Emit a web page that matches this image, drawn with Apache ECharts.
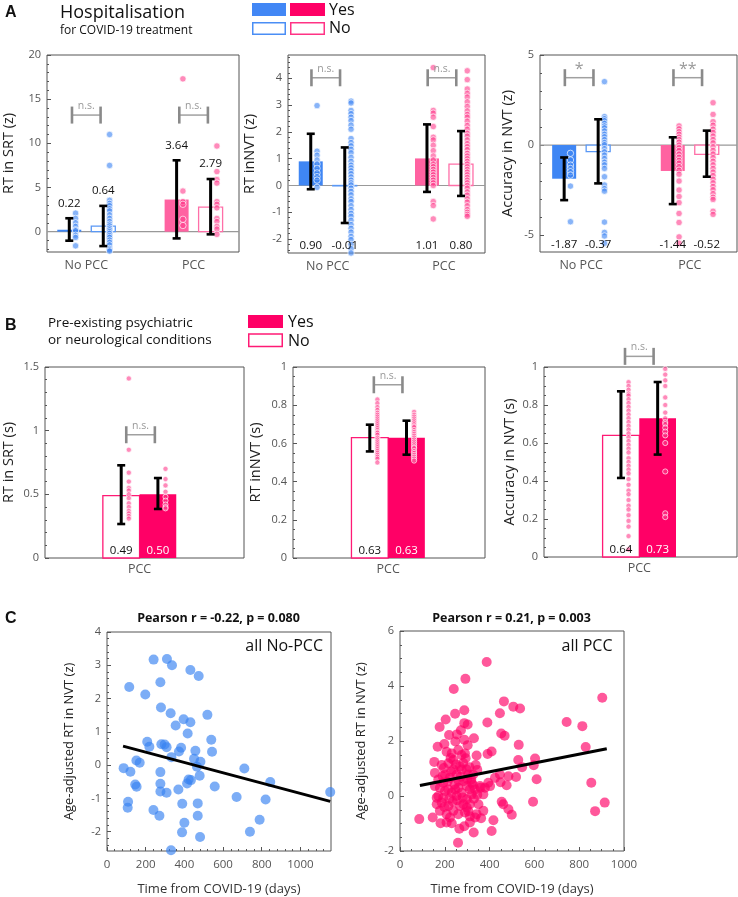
<!DOCTYPE html>
<html>
<head>
<meta charset="utf-8">
<script src="https://cdn.jsdelivr.net/npm/echarts@6.0.0/dist/echarts.min.js"></script>
<style>
html,body{margin:0;padding:0;background:#fff;}
#chart{width:738px;height:897px;}
</style>
</head>
<body>
<div id="chart"></div>
<script>
// ================= DATA =================
const groupsA = ['No PCC', 'PCC'];
const groupsB = ['PCC'];
// Panel A order: [No PCC / hosp Yes, No PCC / hosp No, PCC / hosp Yes, PCC / hosp No]
const srtMean = [0.22, 0.64, 3.64, 2.79];
const srtLow  = [-1.02, -1.63, -0.76, -0.30];
const srtHigh = [1.52, 2.92, 8.08, 5.96];
const srtDots = [
  [2.1, 1.5, 1.0, 0.6, 0.2, 0.1, -0.4, -0.65, -1.6],
  [11.0, 7.5, 3.55, 3.2, 2.95, 2.6, 2.35, 1.9, 1.5, 1.15, 0.85, 0.65, 0.4, 0.2, 0.0, -0.2, -0.45, -0.65, -0.95, -1.2, -1.5, -1.9, -2.05, -2.2],
  [17.3, 4.6, 3.4, 3.1, 1.4, 0.7],
  [9.7, 6.8, 5.9, 5.5, 3.4, 3.1, 2.7, 1.5, 1.15, 0.6, 0.3, -0.3]
];
const nvtMean = [0.90, -0.01, 1.01, 0.80];
const nvtLow  = [-0.14, -1.40, -0.24, -0.39];
const nvtHigh = [1.93, 1.42, 2.28, 2.03];
const nvtDots = [
  [2.98, 1.28, 1.13, 0.95, 0.8, 0.64, 0.47, 0.33, 0.2, -0.07],
  [3.15, 3.08, 2.8, 2.68, 2.55, 2.42, 2.25, 2.1, 1.75, 1.6, 1.48, 1.35, 1.22, 1.05, 0.9, 0.76, 0.66, 0.55, 0.44, 0.32, 0.2, 0.1, 0.02, -0.1, -0.22, -0.35, -0.5, -0.6, -0.76, -0.9, -1.04, -1.15, -1.3, -1.46, -1.6, -1.74, -1.9, -2.02, -2.2, -2.36, -2.52],
  [4.4, 2.8, 2.7, 2.55, 2.2, 1.8, 1.7, 1.5, 1.3, 1.1, 0.95, 0.8, 0.7, 0.6, 0.5, 0.4, 0.3, 0.2, 0.1, 0.0, -0.6, -0.75, -1.25],
  [4.28, 3.95, 3.6, 3.44, 3.3, 3.12, 2.95, 2.78, 2.65, 2.55, 2.4, 2.24, 2.1, 1.95, 1.84, 1.7, 1.56, 1.45, 1.34, 1.2, 1.1, 1.0, 0.9, 0.8, 0.7, 0.6, 0.5, 0.4, 0.3, 0.2, 0.1, 0.0, -0.1, -0.24, -0.36, -0.5, -0.62, -0.76, -0.9, -1.0, -1.08, -1.15]
];
const accMean = [-1.87, -0.37, -1.44, -0.52];
const accLow  = [-3.06, -2.13, -3.28, -1.76];
const accHigh = [-0.69, 1.43, 0.43, 0.80];
const accDots = [
  [-0.46, -0.83, -1.11, -1.3, -1.48, -1.67, -2.28, -4.26],
  [3.52, 1.58, 1.46, 1.35, 1.2, 1.06, 0.95, 0.78, 0.6, 0.46, 0.3, 0.14, 0.02, -0.2, -0.38, -0.56, -0.75, -0.95, -1.1, -1.3, -1.76, -2.22, -2.42, -2.56, -4.28, -4.85, -5.05, -5.45],
  [1.06, 0.9, 0.74, 0.6, 0.44, 0.3, 0.16, 0.0, -0.15, -0.3, -0.5, -0.68, -0.85, -1.0, -1.2, -1.4, -1.62, -2.0, -2.5, -2.86, -3.2, -3.8, -4.3, -5.1, -5.45],
  [2.35, 1.7, 1.3, 1.1, 0.88, 0.7, 0.5, 0.3, 0.12, -0.1, -0.3, -0.5, -0.7, -0.9, -1.1, -1.3, -1.5, -1.7, -1.9, -2.1, -2.3, -2.48, -2.7, -2.9, -3.02, -3.68, -3.85]
];
const sigA1 = ['n.s.', 'n.s.'];
const sigA2 = ['n.s.', 'n.s.'];
const sigA3 = ['*', '**'];

// Panel B order: [conditions No, conditions Yes]
const bSrtMean = [0.49, 0.50];
const bSrtLow  = [0.267, 0.385];
const bSrtHigh = [0.728, 0.628];
const bSrtDots = [
  [1.41, 0.85, 0.67, 0.6, 0.55, 0.53, 0.5, 0.47, 0.43, 0.4, 0.37, 0.35, 0.33, 0.31],
  [0.7, 0.62, 0.57, 0.52, 0.48, 0.45, 0.42, 0.4, 0.39]
];
const bNvtMean = [0.63, 0.63];
const bNvtLow  = [0.558, 0.541];
const bNvtHigh = [0.698, 0.719];
const bNvtDots = [
  [0.83, 0.81, 0.79, 0.775, 0.76, 0.75, 0.74, 0.73, 0.72, 0.71, 0.70, 0.69, 0.68, 0.67, 0.66, 0.655, 0.645, 0.63, 0.62, 0.61, 0.60, 0.59, 0.58, 0.57, 0.56, 0.55, 0.54, 0.53, 0.52, 0.50],
  [0.765, 0.75, 0.74, 0.73, 0.72, 0.71, 0.70, 0.69, 0.685, 0.67, 0.66, 0.65, 0.64, 0.63, 0.62, 0.61, 0.60, 0.59, 0.58, 0.575, 0.56, 0.55, 0.54, 0.53, 0.52, 0.51]
];
const bAccMean = [0.64, 0.73];
const bAccLow  = [0.416, 0.539];
const bAccHigh = [0.872, 0.921];
const bAccDots = [
  [0.92, 0.9, 0.88, 0.86, 0.85, 0.83, 0.81, 0.79, 0.77, 0.75, 0.73, 0.71, 0.69, 0.67, 0.65, 0.63, 0.61, 0.59, 0.57, 0.55, 0.52, 0.5, 0.48, 0.46, 0.44, 0.41, 0.38, 0.35, 0.33, 0.3, 0.27, 0.25, 0.22, 0.19, 0.16, 0.11, 0.04],
  [0.99, 0.96, 0.93, 0.9, 0.84, 0.8, 0.76, 0.73, 0.71, 0.7, 0.68, 0.66, 0.64, 0.6, 0.45, 0.23, 0.21]
];
const sigB = ['n.s.'];

// Panel C: [days from COVID-19, age-adjusted RT in NVT (z)]
const c1Points = [[241,3.17],[310,3.19],[336,3.00],[431,2.86],[474,2.68],[115,2.35],[276,2.49],[198,2.12],[279,1.73],[329,1.56],[396,1.38],[431,1.29],[519,1.51],[355,1.19],[417,0.95],[539,0.76],[543,0.40],[208,0.70],[219,0.55],[281,0.63],[298,0.62],[308,0.54],[383,0.52],[372,0.41],[457,0.43],[333,0.24],[450,0.19],[483,0.10],[465,-0.05],[152,0.14],[169,0.07],[86,-0.09],[121,-0.20],[276,-0.21],[422,-0.43],[434,-0.45],[414,-0.55],[479,-0.32],[557,-0.64],[276,-0.56],[146,-0.58],[153,-0.65],[276,-0.79],[308,-0.83],[369,-0.73],[109,-1.10],[107,-1.28],[240,-1.35],[271,-1.52],[389,-1.16],[400,-1.73],[388,-2.02],[469,-1.15],[469,-1.52],[481,-2.16],[331,-2.56],[710,-0.10],[670,-0.96],[844,-0.51],[820,-1.03],[789,-1.64],[739,-2.00],[1154,-0.81]];
const c1Fit = [[83, 0.57], [1154, -1.09]];
const c1Stats = 'Pearson r = -0.22, p = 0.080';
const c1Label = 'all No-PCC';
const c2Points = [[387,4.87],[292,4.26],[240,3.89],[903,3.57],[464,3.44],[506,3.25],[536,3.18],[446,3.01],[287,3.12],[246,2.99],[204,2.78],[177,2.51],[744,2.69],[814,2.54],[829,1.78],[390,2.67],[287,2.65],[302,2.60],[272,2.39],[219,2.22],[254,2.24],[452,2.27],[467,2.19],[330,2.10],[247,1.98],[287,2.05],[168,1.79],[198,1.89],[302,1.85],[530,1.86],[409,1.62],[391,1.53],[342,1.47],[153,1.24],[528,1.31],[603,1.36],[545,1.05],[597,1.12],[610,0.61],[594,-0.21],[854,0.48],[914,-0.24],[871,-0.55],
  [208,1.61],[231,1.55],[260,1.67],[275,1.49],[293,1.37],[186,1.13],[216,1.19],[238,0.96],[268,1.07],[298,0.96],[338,1.13],[327,0.78],[156,0.84],[171,0.60],[193,0.48],[178,0.30],[201,0.18],[164,-0.06],[186,-0.24],[216,-0.36],[238,-0.54],[260,-0.66],[208,-0.66],[178,-0.54],[146,-0.78],[181,-0.99],[231,-0.99],[265,-1.19],[287,-1.10],[329,-1.33],[259,-1.70],[409,-1.27],[417,-0.88],[86,-0.84],[290,-0.60],[312,-0.74],[335,-0.78],[362,-0.81],[372,-0.54],[312,-0.30],[298,-0.12],[320,0.06],[312,0.24],[320,0.48],[298,0.36],[275,0.12],[260,0.30],[253,0.00],[231,0.12],[283,0.54],[357,0.36],[379,0.30],[372,0.06],[402,0.36],[394,0.48],[424,0.66],[449,0.50],[476,0.39],[454,-0.21],[461,-0.30],[484,-0.48],[499,-0.68],[446,0.78],[484,0.72],[518,0.69],[238,1.31],[253,0.78],[223,0.66],[201,0.78],[156,0.36],[171,0.00],[193,-0.06],[290,1.55],[305,0.78],[275,0.96],[246,0.24],[216,0.24],[164,-0.30],[268,-0.36],[298,-0.42],[335,0.24],[208,-0.96],[223,-0.78],[312,-0.96],[342,-0.66],[283,-0.30],
  [196,1.02],[226,1.38],[250,1.15],[282,1.20],[310,1.05],[318,0.60],[262,0.55],[244,0.42],[228,0.88],[212,0.52],[190,0.72],[270,0.70],[300,0.62],[326,0.40],[345,0.95],[255,-0.15],[235,-0.20],[280,-0.05],[305,-0.55],[198,-0.40],[220,-0.10],[330,-0.10],[345,0.05],[360,0.30],[350,-0.30]];
const c2Fit = [[89, 0.38], [923, 1.72]];
const c2Stats = 'Pearson r = 0.21, p = 0.003';
const c2Label = 'all PCC';

// Tick labels
const ticksA1 = [0, 5, 10, 15, 20];
const ticksA2 = [-2, -1, 0, 1, 2, 3, 4];
const ticksA3 = [-5, 0, 5];
const ticksB1 = [0, 0.5, 1, 1.5];
const ticksB2 = [0, 0.2, 0.4, 0.6, 0.8, 1];
const ticksB3 = [0, 0.2, 0.4, 0.6, 0.8, 1];
const ticksC1x = [0, 200, 400, 600, 800, 1000];
const ticksC1y = [-2, -1, 0, 1, 2, 3, 4];
const ticksC2x = [0, 200, 400, 600, 800, 1000];
const ticksC2y = [-2, 0, 2, 4, 6];

// ================= RENDERING =================
const FONT = '"Open Sans", "DejaVu Sans", sans-serif';
const AXC = '#555';
const grids = [], xAxes = [], yAxes = [], series = [];

function minorTicks(a, b, step, majors) {
  const out = [];
  const start = Math.ceil(a / step - 1e-6);
  for (let k = start; k * step <= b + 1e-9; k++) {
    const v = +(k * step).toFixed(6);
    if (!majors.some(m => Math.abs(m - v) < 1e-6)) out.push(v);
  }
  return out;
}

function addGrid(rect, xc, yc) {
  const gi = grids.length;
  grids.push(Object.assign({show: true, borderColor: '#555', borderWidth: 1, backgroundColor: 'rgba(0,0,0,0)'}, rect));
  const xi = xAxes.length;
  xAxes.push({
    gridIndex: gi, type: 'value', position: 'bottom', min: xc.min, max: xc.max,
    axisLine: {show: false, onZero: false}, splitLine: {show: false},
    axisTick: xc.ticks ? {show: true, inside: true, length: 4, customValues: xc.ticks, lineStyle: {color: AXC}} : {show: false},
    axisLabel: {show: true, customValues: xc.labels, formatter: xc.formatter, color: AXC,
      fontSize: xc.fontSize || 12, fontFamily: FONT, margin: xc.margin},
    name: xc.name || '', nameLocation: 'middle', nameGap: xc.nameGap || 30,
    nameTextStyle: {color: '#333', fontSize: 13, fontFamily: FONT}
  });
  if (xc.minor) {
    xAxes.push({gridIndex: gi, type: 'value', position: 'bottom', min: xc.min, max: xc.max,
      axisLine: {show: false, onZero: false}, splitLine: {show: false}, axisLabel: {show: false},
      axisTick: {show: true, inside: true, length: 2, customValues: xc.minor, lineStyle: {color: AXC}}});
  }
  const yi = yAxes.length;
  yAxes.push({
    gridIndex: gi, type: 'value', position: 'left', min: yc.min, max: yc.max,
    axisLine: {show: false, onZero: false}, splitLine: {show: false},
    axisTick: {show: true, inside: true, length: 4, customValues: yc.labels, lineStyle: {color: AXC}},
    axisLabel: {show: true, customValues: yc.labels, color: AXC, fontSize: 11, fontFamily: FONT, margin: 6},
    name: yc.name, nameLocation: 'middle', nameGap: yc.nameGap,
    nameTextStyle: {color: '#222', fontSize: yc.nameSize || 14.5, fontFamily: FONT}
  });
  if (yc.minor) {
    yAxes.push({gridIndex: gi, type: 'value', position: 'left', min: yc.min, max: yc.max,
      axisLine: {show: false, onZero: false}, splitLine: {show: false}, axisLabel: {show: false},
      axisTick: {show: true, inside: true, length: 2, customValues: yc.minor, lineStyle: {color: AXC}}});
  }
  return {xi, yi};
}

const BLUE = '#3f86f4', BLUE_LINE = '#5a98f5', BLUE_DOT = 'rgba(63,134,244,0.62)';
const PINK_A = '#ff62a1', PINK_A_LINE = '#ff6fa8', PINK_DOT = 'rgba(255,60,140,0.6)';
const PINK = '#ff0066', PINK_LINE = '#ff1a75';

function slotA(i) {
  const group = (i >> 1) + 1, filled = i % 2 === 0;
  const blue = group === 1;
  return {group, side: filled ? -1 : 1, filled,
    fill: blue ? BLUE : PINK_A, stroke: blue ? BLUE_LINE : PINK_A_LINE, dot: blue ? BLUE_DOT : PINK_DOT};
}
function slotB(i) {
  const filled = i === 1;
  return {group: 1, side: filled ? 1 : -1, filled, fill: PINK, stroke: PINK_LINE, dot: PINK_DOT};
}

function barPanel(p) {
  const ax = addGrid(p.grid,
    {min: p.xMin, max: p.xMax, labels: p.groups.map((g, i) => i + 1),
     formatter: v => p.groups[Math.round(v) - 1] || '', ticks: p.kind === 'B' ? [1] : null,
     margin: p.kind === 'B' ? 5 : 7, fontSize: 12.5},
    {min: p.yMin, max: p.yMax, labels: p.yTicks, minor: minorTicks(p.yMin, p.yMax, p.yMinorStep, p.yTicks),
     name: p.yName, nameGap: p.nameGap});
  const slot = p.kind === 'A' ? slotA : slotB;
  const L = p.kind === 'A' ? {off: 17, barW: 24, dotOff: 6.3, dotR: 3.2} : {off: 18.35, barW: 36.7, dotOff: 7.6, dotR: 2.6};
  const base = {xAxisIndex: ax.xi, yAxisIndex: ax.yi, silent: true, animation: false};
  if (p.kind === 'A') {
    series.push(Object.assign({type: 'line', data: [[p.xMin, 0], [p.xMax, 0]], symbol: 'none',
      lineStyle: {color: '#999', width: 1.2}, z: 1}, base));
  }
  const barData = p.mean.map((m, i) => [slot(i).group, m, p.low[i], p.high[i], i]);
  series.push(Object.assign({type: 'custom', z: 2, data: barData,
    renderItem: (params, api) => {
      const s = slot(api.value(4));
      const b = api.coord([s.group, 0]);
      const t = api.coord([s.group, api.value(1)]);
      const cx = b[0] + s.side * L.off;
      const y0 = Math.min(b[1], t[1]), h = Math.max(Math.abs(b[1] - t[1]), 0.4);
      return {type: 'rect', shape: {x: cx - L.barW / 2, y: y0, width: L.barW, height: h},
        style: s.filled ? {fill: s.fill} : {fill: '#fff', stroke: s.stroke, lineWidth: 1.3}};
    }}, base));
  const dotData = [];
  p.dots.forEach((arr, i) => arr.forEach(v => dotData.push([slot(i).group, v, i])));
  series.push(Object.assign({type: 'custom', z: 3, data: dotData,
    renderItem: (params, api) => {
      const s = slot(api.value(2));
      const pt = api.coord([s.group, api.value(1)]);
      const cx = pt[0] + s.side * L.off + L.dotOff;
      return {type: 'circle', shape: {cx, cy: pt[1], r: L.dotR},
        style: {fill: s.dot, stroke: 'rgba(255,255,255,0.85)', lineWidth: 0.8}};
    }}, base));
  series.push(Object.assign({type: 'custom', z: 4, data: barData,
    renderItem: (params, api) => {
      const s = slot(api.value(4));
      const m = api.coord([s.group, api.value(1)]);
      const cx = m[0] + s.side * L.off;
      const yl = api.coord([s.group, api.value(2)])[1];
      const yh = api.coord([s.group, api.value(3)])[1];
      let ly, fill = '#111';
      if (p.labelMode === 'above') ly = yh - 15;
      else {
        ly = api.coord([s.group, p.yMin])[1] - 7;
        if (s.filled && p.kind === 'B') fill = '#fff';
      }
      return {type: 'group', children: [
        {type: 'line', shape: {x1: cx, y1: yl, x2: cx, y2: yh}, style: {stroke: '#000', lineWidth: 3}},
        {type: 'line', shape: {x1: cx - 4, y1: yh, x2: cx + 4, y2: yh}, style: {stroke: '#000', lineWidth: 2.6}},
        {type: 'line', shape: {x1: cx - 4, y1: yl, x2: cx + 4, y2: yl}, style: {stroke: '#000', lineWidth: 2.6}},
        {type: 'text', style: {text: api.value(1).toFixed(2), x: cx, y: ly, align: 'center', verticalAlign: 'middle',
          fill, fontSize: 11.5, fontFamily: FONT}}
      ]};
    }}, base));
  series.push(Object.assign({type: 'custom', z: 4, data: p.sig.map((t, i) => [i + 1, p.sigY, i]),
    renderItem: (params, api) => {
      const c = api.coord([api.value(0), api.value(1)]);
      const x = c[0] + (p.sigShift || 0), hw = 14.3, y = c[1];
      const txt = p.sig[api.value(2)];
      const star = txt.indexOf('*') >= 0;
      return {type: 'group', children: [
        {type: 'line', shape: {x1: x - hw, y1: y, x2: x + hw, y2: y}, style: {stroke: '#a0a0a0', lineWidth: 1.5}},
        {type: 'line', shape: {x1: x - hw, y1: y - 8.5, x2: x - hw, y2: y + 8.5}, style: {stroke: '#8a8a8a', lineWidth: 2.6}},
        {type: 'line', shape: {x1: x + hw, y1: y - 8.5, x2: x + hw, y2: y + 8.5}, style: {stroke: '#8a8a8a', lineWidth: 2.6}},
        {type: 'text', style: {text: txt, x: x, y: star ? y - 8 : y - 9, align: 'center', verticalAlign: 'middle',
          fill: '#999', fontSize: star ? 16 : 10.5, fontFamily: FONT}}
      ]};
    }}, base));
}

barPanel({kind: 'A', grid: {left: 44, top: 55, width: 195, height: 197}, xMin: 0.634, xMax: 2.423,
  yMin: -2.3, yMax: 20, yTicks: ticksA1, yMinorStep: 1, yName: 'RT in SRT (z)', nameGap: 31,
  groups: groupsA, mean: srtMean, low: srtLow, high: srtHigh, dots: srtDots, sig: sigA1, sigY: 13.2, labelMode: 'above'});
barPanel({kind: 'A', grid: {left: 288, top: 55, width: 197, height: 198}, xMin: 0.658, xMax: 2.353,
  yMin: -2.52, yMax: 4.87, yTicks: ticksA2, yMinorStep: 0.2, yName: 'RT inNVT (z)', nameGap: 31,
  groups: groupsA, mean: nvtMean, low: nvtLow, high: nvtHigh, dots: nvtDots, sig: sigA2, sigY: 4.02, sigShift: -2, labelMode: 'bottom'});
barPanel({kind: 'A', grid: {left: 540, top: 55, width: 197, height: 197}, xMin: 0.621, xMax: 2.435,
  yMin: -5.94, yMax: 5, yTicks: ticksA3, yMinorStep: 1, yName: 'Accuracy in NVT (z)', nameGap: 25,
  groups: groupsA, mean: accMean, low: accLow, high: accHigh, dots: accDots, sig: sigA3, sigY: 3.74, sigShift: -2, labelMode: 'bottom'});
barPanel({kind: 'B', grid: {left: 41, top: 367, width: 203, height: 191}, xMin: 0.034, xMax: 2.067,
  yMin: 0, yMax: 1.5, yTicks: ticksB1, yMinorStep: 0.1, yName: 'RT in SRT (s)', nameGap: 29,
  groups: groupsB, mean: bSrtMean, low: bSrtLow, high: bSrtHigh, dots: bSrtDots, sig: sigB, sigY: 0.968, sigShift: 1, labelMode: 'bottom'});
barPanel({kind: 'B', grid: {left: 293, top: 367, width: 192, height: 191}, xMin: 0.05, xMax: 1.967,
  yMin: 0, yMax: 1, yTicks: ticksB2, yMinorStep: 0.05, yName: 'RT inNVT (s)', nameGap: 30,
  groups: groupsB, mean: bNvtMean, low: bNvtLow, high: bNvtHigh, dots: bNvtDots, sig: sigB, sigY: 0.907, labelMode: 'bottom'});
barPanel({kind: 'B', grid: {left: 544, top: 367, width: 193, height: 190}, xMin: 0.047, xMax: 1.977,
  yMin: 0, yMax: 1, yTicks: ticksB3, yMinorStep: 0.05, yName: 'Accuracy in NVT (s)', nameGap: 27,
  groups: groupsB, mean: bAccMean, low: bAccLow, high: bAccHigh, dots: bAccDots, sig: sigB, sigY: 1.056, labelMode: 'bottom'});

function scatterPanel(p) {
  const ax = addGrid(p.grid,
    {min: 0, max: p.xMax, labels: p.xTicks, ticks: p.xTicks, minor: minorTicks(0, p.xMax, p.xMinorStep, p.xTicks),
     formatter: v => String(v), margin: 8, fontSize: 11.5, name: 'Time from COVID-19 (days)', nameGap: 32},
    {min: p.yMin, max: p.yMax, labels: p.yTicks, minor: minorTicks(p.yMin, p.yMax, p.yMinorStep, p.yTicks),
     name: 'Age-adjusted RT in NVT (z)', nameGap: p.nameGap, nameSize: 13});
  const base = {xAxisIndex: ax.xi, yAxisIndex: ax.yi, silent: true, animation: false};
  series.push(Object.assign({type: 'scatter', data: p.points, symbolSize: 10, z: 2,
    itemStyle: {color: p.color, borderWidth: 0}}, base));
  series.push(Object.assign({type: 'line', data: p.fit, symbol: 'none', z: 3,
    lineStyle: {color: '#000', width: 3}}, base));
}
scatterPanel({grid: {left: 107, top: 632, width: 224, height: 223}, xMax: 1158, xTicks: ticksC1x, xMinorStep: 40,
  yMin: -2.58, yMax: 4, yTicks: ticksC1y, yMinorStep: 0.2, nameGap: 31, points: c1Points, fit: c1Fit,
  color: 'rgba(55,130,242,0.82)'});
scatterPanel({grid: {left: 400, top: 631, width: 224, height: 224}, xMax: 1000, xTicks: ticksC2x, xMinorStep: 50,
  yMin: -2, yMax: 6, yTicks: ticksC2y, yMinorStep: 0.5, nameGap: 32, points: c2Points, fit: c2Fit,
  color: 'rgba(255,0,102,0.82)'});

// ---- texts & legends ----
function txt(text, x, y, o) {
  return {type: 'text', x: x, y: y, silent: true, style: Object.assign({text, fill: '#111', fontSize: 12,
    fontFamily: FONT, align: 'left', verticalAlign: 'middle'}, o || {})};
}
const BOLDF = '"Liberation Sans", Arial, sans-serif';
const graphic = [
  txt('A', 5, 13, {fontSize: 16, fontWeight: 'bold', fontFamily: BOLDF}),
  txt('B', 5, 326, {fontSize: 16, fontWeight: 'bold', fontFamily: BOLDF}),
  txt('C', 5, 619, {fontSize: 16, fontWeight: 'bold', fontFamily: BOLDF}),
  txt('Hospitalisation', 60, 13, {fontSize: 18}),
  txt('for COVID-19 treatment', 60, 31, {fontSize: 12}),
  {type: 'rect', shape: {x: 252, y: 3, width: 34, height: 13}, style: {fill: '#4287f5'}, silent: true},
  {type: 'rect', shape: {x: 290, y: 3, width: 35, height: 13}, style: {fill: PINK}, silent: true},
  {type: 'rect', shape: {x: 252.75, y: 22.75, width: 32.5, height: 11.5}, style: {fill: '#fff', stroke: '#4a8ef5', lineWidth: 1.5}, silent: true},
  {type: 'rect', shape: {x: 290.75, y: 22.75, width: 33.5, height: 11.5}, style: {fill: '#fff', stroke: '#ff3385', lineWidth: 1.5}, silent: true},
  txt('Yes', 329, 10, {fontSize: 16}),
  txt('No', 329, 28.5, {fontSize: 16}),
  txt('Pre-existing psychiatric', 48, 323, {fontSize: 13.5}),
  txt('or neurological conditions', 48, 340, {fontSize: 13.5}),
  {type: 'rect', shape: {x: 248, y: 315, width: 35, height: 13}, style: {fill: PINK}, silent: true},
  {type: 'rect', shape: {x: 248.75, y: 334, width: 33.5, height: 12.5}, style: {fill: '#fff', stroke: '#ff1a75', lineWidth: 1.5}, silent: true},
  txt('Yes', 288, 322.5, {fontSize: 16}),
  txt('No', 288, 341, {fontSize: 16}),
  txt(c1Stats, 218.5, 618, {fontSize: 12.5, fontWeight: 'bold', align: 'center'}),
  txt(c2Stats, 511.5, 618, {fontSize: 12.5, fontWeight: 'bold', align: 'center'}),
  txt(c1Label, 323, 646, {fontSize: 16, align: 'right'}),
  txt(c2Label, 612.5, 646, {fontSize: 16, align: 'right'})
];

const chart = echarts.init(document.getElementById('chart'));
chart.setOption({
  animation: false,
  backgroundColor: '#fff',
  grid: grids, xAxis: xAxes, yAxis: yAxes, series: series,
  graphic: graphic
});
</script>
</body>
</html>
